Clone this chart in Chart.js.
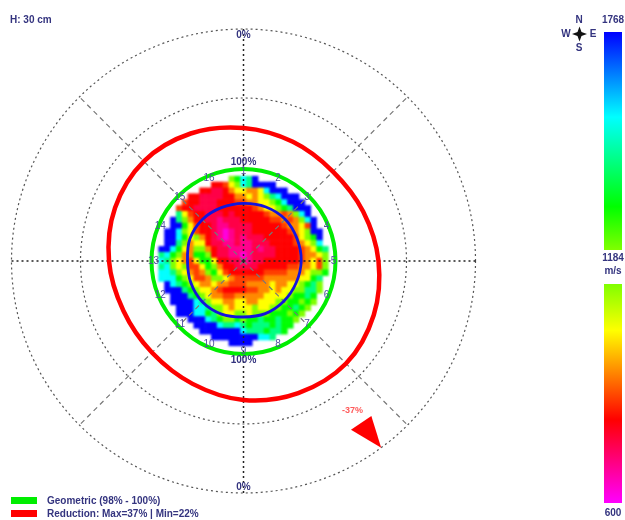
<!DOCTYPE html>
<html>
<head>
<meta charset="utf-8">
<title>Tomogram H: 30 cm</title>
<script src="https://cdn.jsdelivr.net/npm/chart.js@4"></script>
<style>
  html, body { margin: 0; padding: 0; background: #fff; }
  canvas { display: block; filter: blur(0.6px); }
</style>
</head>
<body>
<canvas id="tomogram" width="625" height="520"></canvas>
<script>
// bearings are clockwise from north, radii in px-like units from the stem centre
const ringBearings = [0, 22.5, 45, 67.5, 90, 112.5, 135, 157.5, 180, 202.5, 225, 247.5, 270, 292.5, 315, 337.5];
const geometricRadii = [92, 92, 92, 92, 92, 92, 92, 93, 93, 93, 92, 92, 92, 92, 92, 92];
const reductionRadii = [133, 129, 126.5, 129.5, 135, 141, 145, 143, 139, 133, 129.5, 130, 134.5, 139, 141, 138];
const contourRadii = [57.7, 58.5, 59, 58, 57.7, 57, 57, 57, 56, 57.5, 58, 57, 56, 58, 58.5, 57.8];

const gridRings = [163, 232];
const axisBearings = [0, 90, 180, 270];
const diagonalBearings = [45, 135, 225, 315];

const arrowBearings = [143.6, 147.5, 140.5, 143.6];
const arrowRadii = [232, 200, 201, 232];

const sensorLabels = ['1', '2', '3', '4', '5', '6', '7', '8', '9', '10', '11', '12', '13', '14', '15', '16'];

// colour scale, m/s
const scaleVelocities = [600, 822, 950, 1060, 1184, 1300, 1540, 1768];
const scaleColours = [[255, 0, 255], [255, 0, 0], [255, 137, 0], [255, 255, 0], [128, 255, 0], [0, 255, 0], [0, 255, 255], [0, 0, 255]];

// velocity map, m/s: one row per cell from north to south, rowStart is the first column
const rowStart = [-2, -5, -7, -9, -10, -11, -11, -12, -12, -13, -13, -13, -14, -14, -14, -14, -14, -14, -13, -13, -12, -12, -11, -11, -9, -8, -7, -5, -2];
const velocityRows = [
  [1184, 1300, 1540, 1420, 1768],
  [822, 822, 880, 1060, 1184, 1540, 1420, 1768, 1768, 1768, 1768],
  [822, 822, 760, 760, 822, 950, 1060, 1060, 950, 950, 1060, 1540, 1768, 1768, 1768],
  [822, 822, 760, 760, 760, 760, 822, 822, 950, 950, 1060, 950, 1060, 1184, 1420, 1540, 1768, 1768, 1768],
  [880, 822, 822, 760, 760, 760, 822, 822, 822, 880, 880, 950, 950, 1060, 1060, 1184, 1300, 1540, 1768, 1768, 1768],
  [880, 822, 822, 760, 760, 760, 760, 822, 822, 822, 822, 822, 822, 880, 950, 1060, 1060, 1184, 1300, 1420, 1768, 1768, 1768],
  [1420, 1060, 880, 822, 822, 760, 760, 760, 822, 760, 822, 822, 822, 822, 822, 880, 950, 950, 880, 950, 1184, 1540, 1768],
  [1768, 1420, 1184, 950, 822, 822, 760, 760, 700, 760, 760, 760, 822, 822, 822, 822, 822, 880, 880, 950, 880, 950, 1184, 1540, 1768],
  [1768, 1768, 1300, 1060, 880, 822, 822, 760, 700, 700, 760, 760, 760, 760, 822, 822, 822, 822, 822, 880, 950, 950, 1060, 880, 1768],
  [1768, 1768, 1540, 1184, 1060, 880, 822, 822, 760, 700, 630, 700, 760, 760, 760, 822, 822, 822, 822, 822, 822, 880, 950, 1060, 1184, 1768, 1768],
  [1768, 1768, 1540, 1300, 1060, 1184, 950, 822, 760, 700, 630, 700, 760, 700, 760, 760, 760, 822, 822, 822, 822, 822, 880, 1060, 1184, 1300, 1768],
  [1768, 1768, 1420, 1184, 950, 1060, 1060, 822, 760, 760, 700, 700, 760, 700, 700, 760, 760, 760, 822, 822, 822, 822, 880, 950, 1060, 1184, 1540],
  [1768, 1768, 1540, 1300, 1060, 950, 1184, 1184, 950, 822, 760, 760, 700, 700, 700, 700, 760, 700, 760, 760, 822, 822, 822, 822, 880, 950, 1060, 1300, 1420],
  [1420, 1540, 1300, 1184, 950, 950, 1300, 1300, 1184, 822, 760, 760, 700, 700, 630, 700, 760, 760, 760, 760, 822, 822, 822, 822, 880, 950, 950, 1060, 1184],
  [1540, 1420, 1184, 1060, 950, 880, 1060, 1300, 1300, 1060, 822, 822, 760, 760, 700, 700, 760, 760, 822, 822, 822, 822, 822, 822, 880, 950, 1060, 880, 1184],
  [1420, 1540, 1184, 1060, 1184, 880, 880, 1060, 1300, 1184, 950, 822, 822, 760, 760, 760, 760, 822, 822, 822, 822, 822, 880, 880, 950, 950, 1060, 880, 1184],
  [1540, 1540, 1420, 1184, 1060, 950, 880, 950, 1184, 1300, 1060, 880, 822, 822, 822, 822, 822, 822, 880, 880, 880, 880, 950, 950, 950, 1060, 1184, 1184, 1300],
  [1540, 1540, 1540, 1300, 1184, 1060, 880, 880, 950, 1184, 1184, 1060, 950, 880, 880, 880, 880, 880, 950, 950, 950, 950, 950, 950, 1060, 1060, 1300, 1420],
  [1768, 1540, 1420, 1300, 1184, 1060, 950, 950, 1060, 950, 950, 880, 880, 880, 950, 950, 950, 950, 1060, 950, 950, 1060, 1060, 1184, 1300, 1420, 1184],
  [1768, 1768, 1768, 1420, 1300, 1184, 1060, 1060, 950, 880, 822, 822, 822, 822, 880, 880, 950, 950, 1060, 950, 1060, 1060, 1184, 1184, 1420, 1420, 1184],
  [1768, 1768, 1768, 1420, 1300, 1184, 1060, 950, 950, 880, 880, 950, 950, 950, 950, 950, 1060, 1060, 1060, 1060, 1184, 1300, 1300, 1420, 1300],
  [1768, 1768, 1768, 1768, 1540, 1420, 1184, 1060, 1060, 950, 950, 1060, 1060, 950, 950, 1060, 1060, 1060, 1184, 1184, 1300, 1300, 1184, 1300, 1184],
  [1768, 1768, 1768, 1540, 1540, 1420, 1184, 1184, 1060, 950, 1060, 1060, 1060, 1184, 1060, 1060, 1184, 1184, 1300, 1300, 1420, 1300, 1184],
  [1768, 1768, 1768, 1540, 1540, 1300, 1420, 1184, 1060, 1060, 1184, 1184, 1060, 1184, 1184, 1184, 1300, 1300, 1300, 1184, 1300, 1184],
  [1768, 1768, 1768, 1540, 1420, 1300, 1184, 1184, 1300, 1184, 1300, 1300, 1420, 1300, 1300, 1420, 1300, 1300, 1184],
  [1768, 1768, 1768, 1768, 1540, 1420, 1420, 1540, 1420, 1300, 1420, 1420, 1420, 1300, 1420, 1300, 1300],
  [1768, 1768, 1768, 1768, 1768, 1768, 1768, 1540, 1420, 1420, 1420, 1300, 1420, 1420, 1300],
  [1768, 1768, 1768, 1768, 1768, 1768, 1768, 1768, 1540, 1540, 1420],
  [1768, 1768, 1768, 1768],
];

const CELL = 5.85;
const NAVY = '#34347f';

function polar(bearing, r) {
  const a = bearing * Math.PI / 180;
  return { x: r * Math.sin(a), y: r * Math.cos(a) };
}

function velocityColour(v) {
  let i = 0;
  while (i < scaleVelocities.length - 2 && v > scaleVelocities[i + 1]) i++;
  const t = (v - scaleVelocities[i]) / (scaleVelocities[i + 1] - scaleVelocities[i]);
  const c = scaleColours[i].map((s, n) => Math.round(s + (scaleColours[i + 1][n] - s) * t));
  return `rgb(${c[0]},${c[1]},${c[2]})`;
}

const cells = [];
velocityRows.forEach((row, k) => {
  row.forEach((v, n) => {
    cells.push({ x: (rowStart[k] + n) * CELL, y: (14 - k) * CELL, v: v });
  });
});

function ramp(ctx, axis) {
  const chart = ctx.chart;
  const scale = chart.scales[axis];
  const y0 = scale ? scale.getPixelForValue(scale.min) : NaN;
  const y1 = scale ? scale.getPixelForValue(scale.max) : NaN;
  // the scales have no pixels yet on the first option pass
  if (!isFinite(y0) || !isFinite(y1)) return '#0f0';
  const g = chart.ctx.createLinearGradient(0, y0, 0, y1);
  scaleVelocities.forEach((v, i) => {
    const c = scaleColours[i];
    g.addColorStop((v - scale.min) / (scale.max - scale.min), `rgb(${c[0]},${c[1]},${c[2]})`);
  });
  return g;
}

function spoke(bearing, colour, dash, width) {
  return {
    data: [{ x: 0, y: 0 }, polar(bearing, gridRings[1])],
    showLine: true, pointRadius: 0,
    borderColor: colour, borderDash: dash, borderWidth: width, order: 3,
  };
}

// closed ring: one extra point on each side keeps the curve smooth at north, those two segments are not drawn
function ring(radii, colour, width) {
  const n = radii.length;
  const pts = ringBearings.map((b, i) => polar(b, radii[i]));
  return {
    data: [polar(ringBearings[n - 1] - 360, radii[n - 1]), ...pts, polar(360, radii[0]), polar(360 + ringBearings[1], radii[1])],
    showLine: true, pointRadius: 0, tension: 0.34,
    borderColor: colour, borderWidth: width, order: 2,
    segment: { borderColor: ctx => (ctx.p0DataIndex === 0 || ctx.p1DataIndex === n + 2) ? 'transparent' : colour },
  };
}

const decor = {
  id: 'decor',
  afterDatasetDraw(chart, args) {
    if (args.index !== 0) return;
    const { ctx, canvas, scales: { x, y } } = chart;
    // soften the whole map at once, the picture has no hard cell edges
    const copy = document.createElement('canvas');
    copy.width = canvas.width;
    copy.height = canvas.height;
    copy.getContext('2d').drawImage(canvas, 0, 0);
    ctx.save();
    ctx.clearRect(0, 0, canvas.width, canvas.height);
    ctx.filter = 'blur(1.3px)';
    ctx.drawImage(copy, 0, 0);
    ctx.filter = 'none';
    // grid rings sit on the map
    ctx.strokeStyle = '#555';
    ctx.lineWidth = 1.2;
    ctx.setLineDash([2, 3]);
    gridRings.forEach(r => {
      ctx.beginPath();
      ctx.arc(x.getPixelForValue(0), y.getPixelForValue(0), x.getPixelForValue(r) - x.getPixelForValue(0), 0, Math.PI * 2);
      ctx.stroke();
    });
    ctx.restore();
  },
  afterDatasetsDraw(chart) {
    const { ctx, scales: { x, y } } = chart;
    const text = (s, vx, vy, font, colour, align) => {
      ctx.font = font;
      ctx.fillStyle = colour;
      ctx.textAlign = align || 'center';
      ctx.textBaseline = 'middle';
      ctx.fillText(s, x.getPixelForValue(vx), y.getPixelForValue(vy));
    };
    ctx.save();
    const bold = 'bold 10px "Liberation Sans"';

    sensorLabels.forEach((s, i) => {
      const p = polar(ringBearings[i], 90);
      text(s, p.x, p.y, '10px "Liberation Sans"', '#4f4fa0');
    });
    text('0%', 0, 226, bold, NAVY);
    text('100%', 0, 99, bold, NAVY);
    text('100%', 0, -99, bold, NAVY);
    text('0%', 0, -226, bold, NAVY);
    text('-37%', 109, -150, 'bold 9px "Liberation Sans"', '#ff5a5a');

    text('H: 30 cm', -233.5, 241, bold, NAVY, 'left');
    text('1768', 369.5, 241, bold, NAVY);
    text('1184', 369.5, 3, bold, NAVY);
    text('m/s', 369.5, -10, bold, NAVY);
    text('600', 369.5, -252, bold, NAVY);
    text('N', 335.5, 241, bold, NAVY);
    text('S', 335.5, 213, bold, NAVY);
    text('W', 322.5, 227, bold, NAVY);
    text('E', 349.5, 227, bold, NAVY);

    // compass star
    const cx = x.getPixelForValue(336), cy = y.getPixelForValue(227);
    ctx.fillStyle = '#111';
    ctx.beginPath();
    [[0, -7.5], [2, -2], [7.5, 0], [2, 2], [0, 7.5], [-2, 2], [-7.5, 0], [-2, -2]].forEach((p, i) => {
      if (i === 0) ctx.moveTo(cx + p[0], cy + p[1]); else ctx.lineTo(cx + p[0], cy + p[1]);
    });
    ctx.closePath();
    ctx.fill();

    // legend
    ctx.fillStyle = '#00ee00';
    ctx.fillRect(11, 497, 26, 7);
    ctx.fillStyle = '#ff0000';
    ctx.fillRect(11, 510, 26, 7);
    text('Geometric (98% - 100%)', -196.5, -240, bold, NAVY, 'left');
    text('Reduction: Max=37% | Min=22%', -196.5, -253, bold, NAVY, 'left');
    ctx.restore();
  },
};

new Chart(document.getElementById('tomogram'), {
  type: 'scatter',
  data: {
    datasets: [
      // heat map
      {
        data: cells,
        pointStyle: 'rect',
        pointRadius: (CELL + 0.6) / Math.SQRT2,
        pointBorderWidth: 0,
        pointBackgroundColor: ctx => ctx.raw ? velocityColour(ctx.raw.v) : '#fff',
        order: 5,
      },
      ...axisBearings.map(b => spoke(b, '#222', [2, 3], 1.5)),
      ...diagonalBearings.map(b => spoke(b, '#777', [5, 4], 1.2)),
      ring(geometricRadii, '#00ee00', 4),
      ring(reductionRadii, '#ff0000', 4.5),
      ring(contourRadii, '#1414dc', 2.8),
      // reduction arrow
      {
        data: arrowBearings.map((b, i) => polar(b, arrowRadii[i])),
        showLine: true, pointRadius: 0, fill: 'shape',
        borderColor: '#ff0000', backgroundColor: '#ff0000', borderWidth: 0, order: 1,
      },
      // colour bars
      {
        data: [{ x: 369.5, y: 1184 }, { x: 369.5, y: 1768 }],
        yAxisID: 'yUp', showLine: true, pointRadius: 0, borderWidth: 18,
        borderColor: ctx => ramp(ctx, 'yUp'),
      },
      {
        data: [{ x: 369.5, y: 600 }, { x: 369.5, y: 1184 }],
        yAxisID: 'yLow', showLine: true, pointRadius: 0, borderWidth: 18,
        borderColor: ctx => ramp(ctx, 'yLow'),
      },
    ],
  },
  plugins: [decor],
  options: {
    responsive: false,
    animation: false,
    events: [],
    layout: { padding: 0, autoPadding: false },
    plugins: { legend: { display: false }, title: { display: false }, tooltip: { enabled: false } },
    scales: {
      x: { type: 'linear', display: false, min: -243.5, max: 381.5 },
      y: { type: 'linear', display: false, min: -259, max: 261 },
      yUp: { type: 'linear', display: false, min: 1184 - 270 * 584 / 218, max: 1768 + 32 * 584 / 218 },
      yLow: { type: 'linear', display: false, min: 600 - 17 * 584 / 219, max: 1184 + 284 * 584 / 219 },
    },
  },
});
</script>
</body>
</html>
